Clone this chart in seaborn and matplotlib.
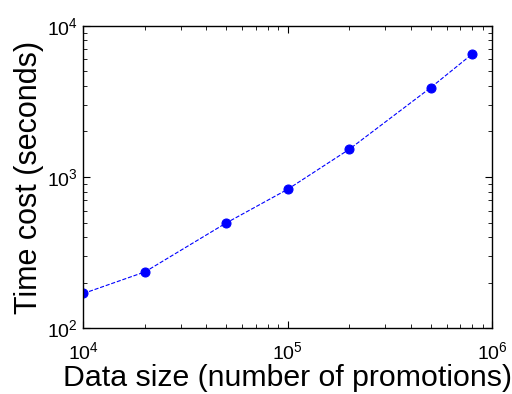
import matplotlib
matplotlib.use("Agg")
import matplotlib.pyplot as plt
import seaborn as sns
import pandas as pd
from matplotlib.ticker import LogLocator

data_size = [1e4, 2e4, 5e4, 1e5, 2e5, 5e5, 8e5]
time_cost = [170, 236, 497, 830, 1525, 3890, 6500]

sns.set_style("ticks")
plt.rcParams['font.family'] = ['Liberation Sans', 'DejaVu Sans']
plt.rcParams['mathtext.fontset'] = 'custom'
plt.rcParams['mathtext.rm'] = 'Liberation Sans'
plt.rcParams['mathtext.it'] = 'Liberation Sans'
plt.rcParams['mathtext.default'] = 'regular'
plt.rcParams['text.color'] = 'black'
plt.rcParams['axes.labelcolor'] = 'black'

df = pd.DataFrame({"size": data_size, "time": time_cost})

fig = plt.figure(figsize=(5.12, 3.94), dpi=100)
ax = fig.add_axes([0.163, 0.1667, 0.798, 0.768])
sns.lineplot(data=df, x="size", y="time", ax=ax, color="blue", linestyle="--",
             linewidth=0.8, marker="o", markersize=6.5, markeredgecolor="blue",
             markerfacecolor="blue")
ax.set_xscale("log")
ax.set_yscale("log")
ax.set_xlim(1e4, 1e6)
ax.set_ylim(1e2, 1e4)
ax.xaxis.set_major_locator(LogLocator(base=10, numticks=10))
ax.yaxis.set_major_locator(LogLocator(base=10, numticks=10))
ax.xaxis.set_minor_locator(LogLocator(base=10, subs=range(2, 10), numticks=20))
ax.yaxis.set_minor_locator(LogLocator(base=10, subs=range(2, 10), numticks=20))
for s in ax.spines.values():
    s.set_visible(True)
    s.set_color("black")
    s.set_linewidth(1.0)
ax.tick_params(which="both", direction="in", top=True, right=True, colors="black",
               labelcolor="black")
ax.tick_params(which="major", length=5, width=0.8, labelsize=14)
ax.tick_params(which="minor", length=3, width=0.6)
ax.tick_params(axis="x", which="major", pad=9)
ax.tick_params(axis="y", which="major", pad=4)
ax.set_xlabel("Data size (number of promotions)", fontsize=21.8, labelpad=1)
ax.set_ylabel("Time cost (seconds)", fontsize=22, labelpad=2)
fig.savefig("out.png", dpi=100)
